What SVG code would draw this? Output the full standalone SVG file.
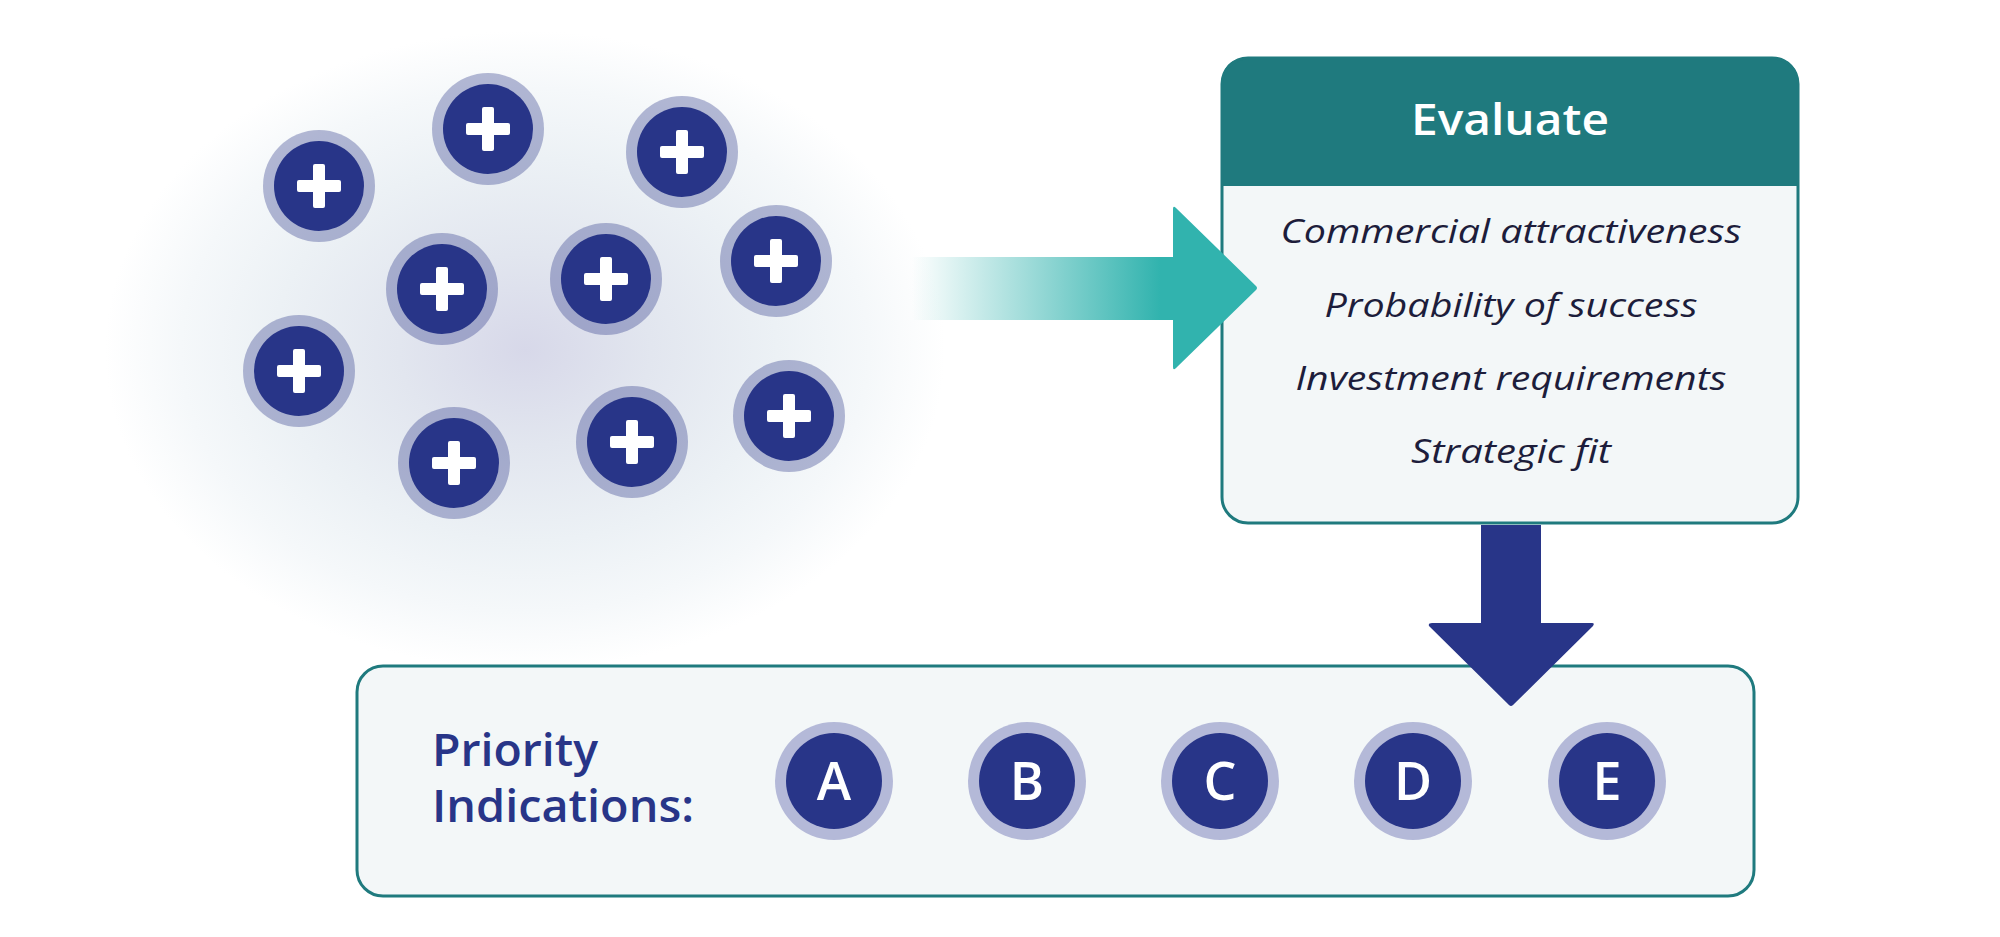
<svg xmlns="http://www.w3.org/2000/svg" width="2000" height="937" viewBox="0 0 2000 937">
<defs>
<radialGradient id="glow" cx="525" cy="350" r="420" gradientUnits="userSpaceOnUse" gradientTransform="translate(525 350) scale(1 0.76) translate(-525 -350)">
<stop offset="0" stop-color="#d7d8e9"/>
<stop offset="0.3" stop-color="#e2e6ef"/>
<stop offset="0.6" stop-color="#ecf1f5"/>
<stop offset="0.82" stop-color="#f5f8fa"/>
<stop offset="1" stop-color="#ffffff"/>
</radialGradient>
<linearGradient id="fade" x1="912" y1="0" x2="1160" y2="0" gradientUnits="userSpaceOnUse">
<stop offset="0" stop-color="#31b3ae" stop-opacity="0"/>
<stop offset="1" stop-color="#31b3ae"/>
</linearGradient>
<g id="plus">
<circle r="56" fill="#283588" fill-opacity="0.34"/>
<circle r="45" fill="#283588"/>
<rect x="-22" y="-6" width="44" height="12" rx="2" fill="#ffffff"/>
<rect x="-6" y="-22" width="12" height="44" rx="2" fill="#ffffff"/>
</g>
<g id="badge">
<circle r="59" fill="#b4b9d8"/>
<circle r="48" fill="#283588"/>
</g>
</defs>
<style>
.item{font-family:"Open Sans",Lato,sans-serif;font-style:italic;font-size:32px;fill:#1d1d3b;text-anchor:middle}
.title{font-family:"Open Sans",Lato,sans-serif;font-weight:600;font-size:44px;fill:#ffffff;text-anchor:middle}
.prio{font-family:"Open Sans",Lato,sans-serif;font-weight:600;font-size:45px;fill:#283588}
.letter{font-family:"Open Sans",Lato,sans-serif;font-weight:600;font-size:52px;fill:#ffffff;text-anchor:middle}
</style>
<rect width="2000" height="937" fill="#ffffff"/>
<rect x="0" y="0" width="1000" height="720" fill="url(#glow)"/>
<g id="ideas">
<use href="#plus" x="319" y="186"/>
<use href="#plus" x="488" y="129"/>
<use href="#plus" x="682" y="152"/>
<use href="#plus" x="442" y="289"/>
<use href="#plus" x="606" y="279"/>
<use href="#plus" x="776" y="261"/>
<use href="#plus" x="299" y="371"/>
<use href="#plus" x="454" y="463"/>
<use href="#plus" x="632" y="442"/>
<use href="#plus" x="789" y="416"/>
</g>
<g id="priority-box">
<rect x="357" y="666" width="1397" height="230" rx="26" fill="#f3f7f8" stroke="#1f7a7e" stroke-width="3"/>
<text class="prio" x="432" y="766" textLength="166" lengthAdjust="spacingAndGlyphs">Priority</text>
<text class="prio" x="432" y="822" textLength="262" lengthAdjust="spacingAndGlyphs">Indications:</text>
<g id="badge-a"><use href="#badge" x="834" y="781"/><text class="letter" x="834" y="800">A</text></g>
<g id="badge-b"><use href="#badge" x="1027" y="781"/><text class="letter" x="1027" y="800">B</text></g>
<g id="badge-c"><use href="#badge" x="1220" y="781"/><text class="letter" x="1220" y="800">C</text></g>
<g id="badge-d"><use href="#badge" x="1413" y="781"/><text class="letter" x="1413" y="800">D</text></g>
<g id="badge-e"><use href="#badge" x="1607" y="781"/><text class="letter" x="1607" y="800">E</text></g>
</g>
<g id="evaluate-box">
<path d="M1222 84 Q1222 58 1248 58 L1772 58 Q1798 58 1798 84 L1798 186 L1222 186 Z" fill="#1f7a7e"/>
<path d="M1222 186 L1798 186 L1798 497 Q1798 523 1772 523 L1248 523 Q1222 523 1222 497 Z" fill="#f3f7f8"/>
<rect x="1222" y="58" width="576" height="465" rx="26" fill="none" stroke="#1f7a7e" stroke-width="3"/>
<text class="title" x="1510" y="135" textLength="198" lengthAdjust="spacingAndGlyphs">Evaluate</text>
<text class="item" x="1511" y="243" textLength="461" lengthAdjust="spacingAndGlyphs">Commercial attractiveness</text>
<text class="item" x="1511" y="317" textLength="373" lengthAdjust="spacingAndGlyphs">Probability of success</text>
<text class="item" x="1511" y="390" textLength="431" lengthAdjust="spacingAndGlyphs">Investment requirements</text>
<text class="item" x="1511" y="463" textLength="200" lengthAdjust="spacingAndGlyphs">Strategic fit</text>
</g>
<g id="connectors">
<rect x="910" y="257" width="265" height="63" fill="url(#fade)"/>
<path d="M1173 209 Q1173 205 1176 208 L1256 286 Q1258 288 1256 290 L1176 368 Q1173 371 1173 367 Z" fill="#31b3ae"/>
<rect x="1481" y="525" width="60" height="101" fill="#283588"/>
<path d="M1432 623 L1592 623 Q1595 623 1593 626 L1513 705 Q1511 707 1509 705 L1429 626 Q1428 623 1432 623 Z" fill="#283588"/>
</g>
</svg>
